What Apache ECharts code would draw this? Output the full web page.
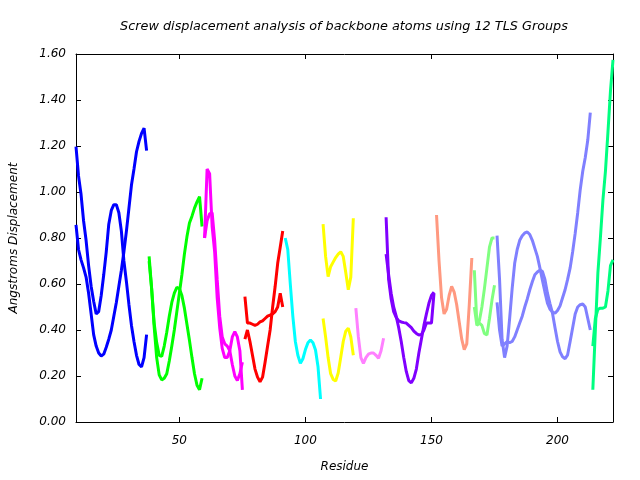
<!DOCTYPE html>
<html><head><meta charset="utf-8">
<script src="https://cdn.jsdelivr.net/npm/echarts@6/dist/echarts.min.js"></script>
<style>html,body{margin:0;padding:0;background:#fff}#c{width:640px;height:480px}</style>
</head><body><div id="c"></div>
<script>
// x tick labels and y ticks
const xTicks = [50, 100, 150, 200];
const yTicks = [0, 0.2, 0.4, 0.6, 0.8, 1.0, 1.2, 1.4, 1.6];

// Group residue spans (first, last)
const g1Span = [9, 37], g2Span = [38, 59], g3Span = [60, 75], g4Span = [76, 91];
const g5Span = [92, 106], g6Span = [107, 119], g7Span = [120, 131], g8Span = [132, 151];
const g9Span = [152, 166], g10Span = [167, 175], g11Span = [176, 213], g12Span = [214, 222];

// Screw displacement values (Angstroms), two curves per group where present
const blueA = [1.197,1.07,0.99,0.875,0.79,0.68,0.59,0.525,0.47,0.48,0.55,0.64,0.74,0.86,0.92,0.945,0.945,0.91,0.83,0.70,0.61,0.51,0.42,0.35,0.29,0.25,0.24,0.28,0.38];
const blueB = [0.857,0.75,0.705,0.67,0.63,0.56,0.47,0.38,0.33,0.30,0.287,0.295,0.325,0.36,0.40,0.46,0.52,0.59,0.66,0.74,0.83,0.93,1.03,1.10,1.175,1.22,1.255,1.278,1.18];
const greenA = [0.72,0.58,0.415,0.28,0.205,0.183,0.19,0.21,0.265,0.33,0.40,0.48,0.56,0.64,0.73,0.805,0.865,0.895,0.93,0.957,0.98,0.85];
const greenB = [0.70,0.58,0.43,0.345,0.29,0.285,0.33,0.39,0.46,0.52,0.56,0.585,0.58,0.55,0.495,0.425,0.355,0.28,0.21,0.16,0.14,0.19];
const magentaA = [0.80,1.10,1.08,0.85,0.74,0.54,0.41,0.32,0.28,0.28,0.31,0.37,0.393,0.37,0.31,0.14];
const magentaB = [0.80,0.875,0.905,0.91,0.79,0.62,0.46,0.37,0.34,0.33,0.31,0.25,0.20,0.18,0.21,0.26];
const redA = [0.545,0.43,0.43,0.425,0.42,0.425,0.435,0.44,0.45,0.46,0.465,0.47,0.48,0.50,0.56,0.50];
const redB = [0.36,0.40,0.35,0.29,0.23,0.195,0.175,0.195,0.26,0.33,0.40,0.50,0.59,0.69,0.76,0.83];
const cyanA = [0.80,0.75,0.60,0.46,0.35,0.29,0.255,0.275,0.315,0.345,0.357,0.345,0.313,0.24,0.10];
const yellowA = [0.86,0.72,0.632,0.675,0.695,0.715,0.73,0.74,0.72,0.65,0.575,0.63,0.886];
const yellowB = [0.45,0.37,0.28,0.21,0.185,0.178,0.213,0.28,0.35,0.395,0.408,0.37,0.29];
const pinkA = [0.495,0.37,0.28,0.255,0.28,0.295,0.30,0.30,0.29,0.277,0.31,0.364];
const purpleA = [0.89,0.62,0.535,0.48,0.455,0.44,0.435,0.432,0.43,0.42,0.41,0.395,0.385,0.378,0.38,0.40,0.43,0.43,0.43,0.56];
const purpleB = [0.73,0.64,0.56,0.50,0.46,0.41,0.35,0.28,0.22,0.18,0.17,0.19,0.23,0.30,0.36,0.42,0.47,0.517,0.55,0.565];
const salmonA = [0.90,0.70,0.54,0.47,0.49,0.55,0.59,0.565,0.51,0.435,0.36,0.315,0.34,0.51,0.713];
const lgreenA = [0.66,0.43,0.44,0.50,0.58,0.67,0.76,0.80,0.80];
const lgreenB = [0.50,0.42,0.43,0.42,0.385,0.378,0.45,0.53,0.595];
const periA = [0.81,0.62,0.36,0.28,0.33,0.45,0.58,0.69,0.75,0.79,0.81,0.822,0.826,0.815,0.79,0.755,0.72,0.67,0.617,0.565,0.517,0.49,0.478,0.473,0.485,0.505,0.54,0.575,0.62,0.67,0.74,0.82,0.91,1.01,1.09,1.15,1.226,1.345];
const periB = [0.52,0.40,0.33,0.34,0.35,0.345,0.35,0.37,0.40,0.43,0.46,0.50,0.535,0.575,0.61,0.64,0.652,0.66,0.655,0.62,0.56,0.515,0.473,0.41,0.35,0.305,0.283,0.275,0.292,0.35,0.41,0.47,0.50,0.51,0.513,0.50,0.45,0.40];
const springA = [0.14,0.40,0.647,0.80,0.965,1.09,1.26,1.44,1.574];
const springB = [0.33,0.45,0.49,0.495,0.495,0.50,0.57,0.68,0.705];

const groups = [
  [g1Span, '#0000ff', [blueA, blueB]],
  [g2Span, '#00ff00', [greenA, greenB]],
  [g3Span, '#ff00ff', [magentaA, magentaB]],
  [g4Span, '#ff0000', [redA, redB]],
  [g5Span, '#00ffff', [cyanA]],
  [g6Span, '#ffff00', [yellowA, yellowB]],
  [g7Span, '#ff80ff', [pinkA]],
  [g8Span, '#8000ff', [purpleA, purpleB]],
  [g9Span, '#ff9980', [salmonA]],
  [g10Span, '#80ff80', [lgreenA, lgreenB]],
  [g11Span, '#8080ff', [periA, periB]],
  [g12Span, '#00ff80', [springA, springB]]
];

const FONT = 'DejaVu Sans';
const series = [];
groups.forEach(([span, color, curves]) => {
  curves.forEach(vals => {
    series.push({
      type: 'line', showSymbol: false, symbol: 'none', animation: false,
      lineStyle: { color: color, width: 3 }, itemStyle: { color: color },
      data: vals.map((v, i) => [span[0] + i, v]), clip: true, z: 2
    });
  });
});

const lbl = { fontFamily: FONT, fontStyle: 'italic', fontSize: 12, color: '#000' };
const chart = echarts.init(document.getElementById('c'), null, { renderer: 'canvas' });
chart.setOption({
  backgroundColor: '#fff',
  animation: false,
  grid: { left: 76, right: 27, top: 54, bottom: 58, containLabel: false },
  graphic: [{
    type: 'text', x: 344, y: 27,
    style: { text: 'Screw displacement analysis of backbone atoms using 12 TLS Groups',
      fontFamily: FONT, fontStyle: 'italic', fontSize: 12.8, fill: '#000',
      textAlign: 'center', textVerticalAlign: 'middle' }
  }],
  xAxis: [{
    type: 'value', min: g1Span[0], max: g12Span[1], position: 'bottom',
    name: 'Residue', nameLocation: 'middle', nameGap: 39, nameTextStyle: lbl,
    axisLine: { show: true, onZero: false, lineStyle: { color: '#000', width: 1 } },
    axisTick: { show: true, inside: true, length: 5, customValues: xTicks, lineStyle: { color: '#000' } },
    axisLabel: { show: true, margin: 13, customValues: xTicks, ...lbl },
    splitLine: { show: false }
  }, {
    type: 'value', min: g1Span[0], max: g12Span[1], position: 'top',
    axisLine: { show: true, onZero: false, lineStyle: { color: '#000', width: 1 } },
    axisTick: { show: true, inside: true, length: 5, customValues: xTicks, lineStyle: { color: '#000' } },
    axisLabel: { show: false }, splitLine: { show: false }
  }],
  yAxis: [{
    type: 'value', min: yTicks[0], max: yTicks[yTicks.length - 1], interval: 0.2, position: 'left',
    name: 'Angstroms Displacement', nameLocation: 'middle', nameGap: 56, nameRotate: 90, nameTextStyle: lbl,
    axisLine: { show: true, onZero: false, lineStyle: { color: '#000', width: 1 } },
    axisTick: { show: true, inside: true, length: 5, lineStyle: { color: '#000' } },
    axisLabel: { show: true, margin: 10, formatter: v => v.toFixed(2), ...lbl },
    splitLine: { show: false }
  }, {
    type: 'value', min: yTicks[0], max: yTicks[yTicks.length - 1], interval: 0.2, position: 'right',
    axisLine: { show: true, onZero: false, lineStyle: { color: '#000', width: 1 } },
    axisTick: { show: true, inside: true, length: 5, lineStyle: { color: '#000' } },
    axisLabel: { show: false }, splitLine: { show: false }
  }],
  series: series
});
</script>
</body></html>
